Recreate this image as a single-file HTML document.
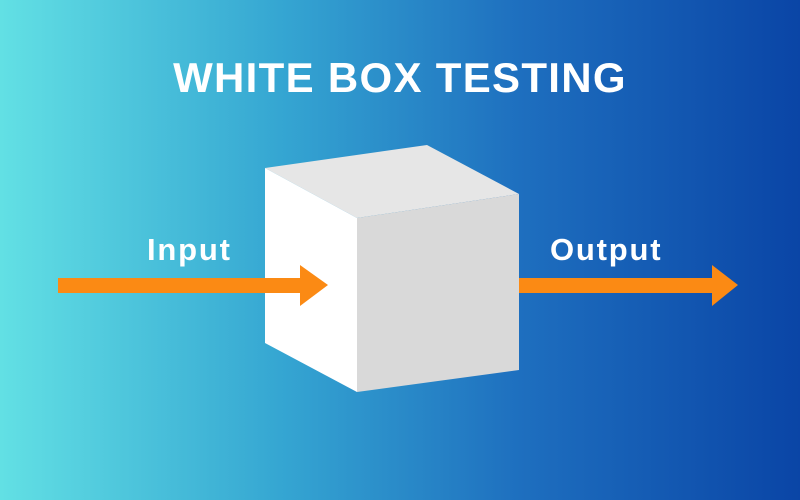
<!DOCTYPE html>
<html><head><style>
body{margin:0}
.c{position:relative;width:800px;height:500px;overflow:hidden;background:linear-gradient(90deg,#62e0e4 0%,#35a6d2 35%,#1e6fbf 65%,#0a45a6 100%);font-family:"Liberation Sans",sans-serif}
.t{position:absolute;left:0;width:800px;text-align:center;top:54px;color:#fff;font-weight:bold;font-size:42px;letter-spacing:1.3px}
.l{position:absolute;color:#fff;font-weight:bold;font-size:31px;letter-spacing:1.8px}
</style></head><body><div class="c">
<div class="t">WHITE BOX TESTING</div>
<div class="l" style="left:147px;top:232px">Input</div>
<div class="l" style="left:550px;top:232px">Output</div>
<svg width="800" height="500" style="position:absolute;left:0;top:0">
<polygon points="265,168 427,145 519,194 357,218" fill="#e6e6e6"/>
<polygon points="265,168 357,218 357,392 265,343" fill="#ffffff"/>
<polygon points="357,218 519,194 519,370 357,392" fill="#d9d9d9"/>
<polygon points="58,278 300,278 300,265 328,285 300,306 300,293 58,293" fill="#fb8a14"/>
<polygon points="519,278 712,278 712,265 738,285 712,306 712,293 519,293" fill="#fb8a14"/>
</svg>
</div></body></html>
